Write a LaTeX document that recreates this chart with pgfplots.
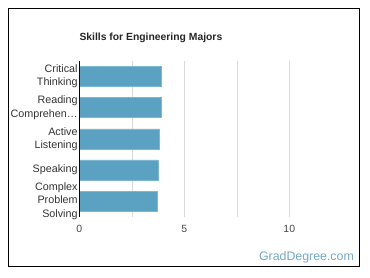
\documentclass[border=0pt]{standalone}
\usepackage{fontspec}
\setmainfont{Liberation Sans}
\usepackage{pgfplots}
\pgfplotsset{compat=1.18}
\definecolor{barblue}{HTML}{5BA1C2}
\definecolor{baredge}{HTML}{7FB6D0}
\definecolor{labelgray}{HTML}{333333}
\definecolor{gridgray}{HTML}{D9D9D9}
\definecolor{markblue}{HTML}{74A7C4}
\begin{document}
\begin{tikzpicture}
\useasboundingbox (0bp,0bp) rectangle (370bp,278bp);
% outer frame
\draw[black, line width=1.2bp] (8.3bp,11.3bp) rectangle (359.3bp,269.7bp);
% title
\node[anchor=base west, font=\bfseries\fontsize{10.4}{12}\selectfont, text=black!85, inner sep=0]
  at (79.3bp,237.3bp) {Skills for Engineering Majors};
\begin{axis}[
  at={(79.3bp,61.3bp)}, anchor=south west,
  scale only axis, width=262.5bp, height=155.7bp,
  xmin=0, xmax=12.5, ymin=-0.5, ymax=4.5,
  y dir=reverse,
  axis line style={draw=none},
  xtick={0,5,10},
  extra x ticks={2.5,7.5},
  extra x tick labels={},
  extra x tick style={grid=major, major grid style={gridgray, line width=0.6bp}},
  xmajorgrids, major grid style={gridgray, line width=0.6bp},
  ytick={0,1,2,3,4},
  yticklabels={Critical\\Thinking, Reading\\Comprehen…, Active\\Listening, Speaking, Complex\\Problem\\Solving},
  yticklabel style={align=right, text=labelgray, font=\fontsize{10.8}{13.3}\selectfont, inner sep=1.5bp},
  xticklabel style={text=labelgray!90, font=\fontsize{10.5}{12}\selectfont, yshift=-5bp},
  /pgf/number format/assume math mode=true,
  major tick length=0pt,
  tick style={draw=none},
  clip=false,
]
\addplot[xbar, bar width=20bp, fill=barblue, draw=baredge, line width=0.5bp]
  coordinates {(3.90,0) (3.90,1) (3.81,2) (3.76,3) (3.71,4)};
\draw[black, line width=1bp] (axis cs:0,-0.5) -- (axis cs:0,4.5);
\end{axis}
% site mark
\node[anchor=base east, font=\fontsize{12.4}{14}\selectfont, text=markblue, inner sep=0]
  at (354bp,18bp) {GradDegree.com};
\end{tikzpicture}
\end{document}
